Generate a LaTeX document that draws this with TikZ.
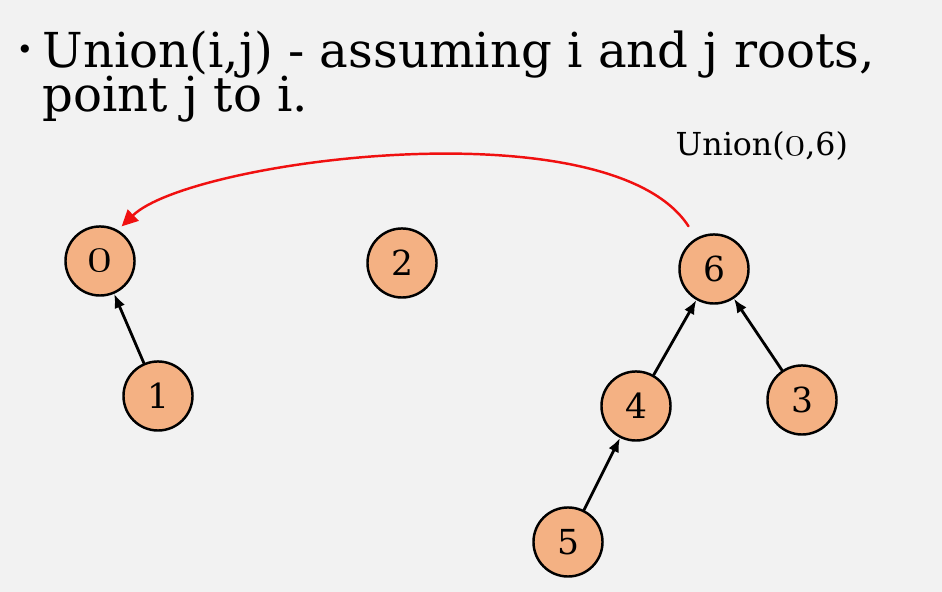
\documentclass[tikz,border=0pt]{standalone}
\usepackage{fontspec}
\setmainfont{DejaVu Serif}
\usetikzlibrary{arrows.meta}
\definecolor{slidebg}{RGB}{242,242,242}
\definecolor{nodepeach}{RGB}{244,177,131}
\definecolor{unionred}{RGB}{240,16,16}
\newcommand{\osf}[2][13]{{\usefont{OML}{cmm}{m}{it}\fontsize{#1}{15}\selectfont#2}}

\begin{document}
\begin{tikzpicture}[x=0.01cm,y=-0.01cm,line cap=round,line join=round,
  elem/.style={circle,draw=black,fill=nodepeach,line width=0.7pt,minimum size=0.69cm,inner sep=0pt,font=\fontsize{9.8}{11}\selectfont},
  parentlink/.style={-{Latex[length=4pt,width=3.2pt]},line width=0.8pt}]
\fill[slidebg] (0,0) rectangle (942,592);
\useasboundingbox (0,0) rectangle (942,592);
% title bullet
\node[font=\fontsize{8}{10}\selectfont,anchor=base] (bullet) at (25,60) {\textbullet};
\node[font=\fontsize{13.7}{12.5}\selectfont,anchor=base west,inner sep=0pt] (titleA) at (42,68) {Union(i,j) - assuming i and j roots,};
\node[font=\fontsize{13.7}{12.5}\selectfont,anchor=base west,inner sep=0pt] (titleB) at (42,112) {point j to i.};
\node[font=\fontsize{9}{11}\selectfont,anchor=base west,inner sep=0pt] (oplabel) at (675,156) {Union(\osf{0},6)};
% elements
\node[elem] (zero) at (100,261) {\osf[14.5]{0}};
\node[elem] (one) at (158,396) {1};
\node[elem] (two) at (402,263) {2};
\node[elem] (six) at (714,269) {6};
\node[elem] (four) at (636,406) {4};
\node[elem] (three) at (802,400) {3};
\node[elem] (five) at (568,542) {5};
% parent pointers
\draw[parentlink] (one) -- (zero);
\draw[parentlink] (four) -- (six);
\draw[parentlink] (three) -- (six);
\draw[parentlink] (five) -- (four);
% the union: j points to i
\draw[unionred,line width=0.7pt,-{Triangle[length=4.6pt,width=4.4pt]},shorten <=4pt,shorten >=1.5pt]
  (six.120) .. controls (610,105) and (190,160) .. (zero.60);
\end{tikzpicture}
\end{document}
